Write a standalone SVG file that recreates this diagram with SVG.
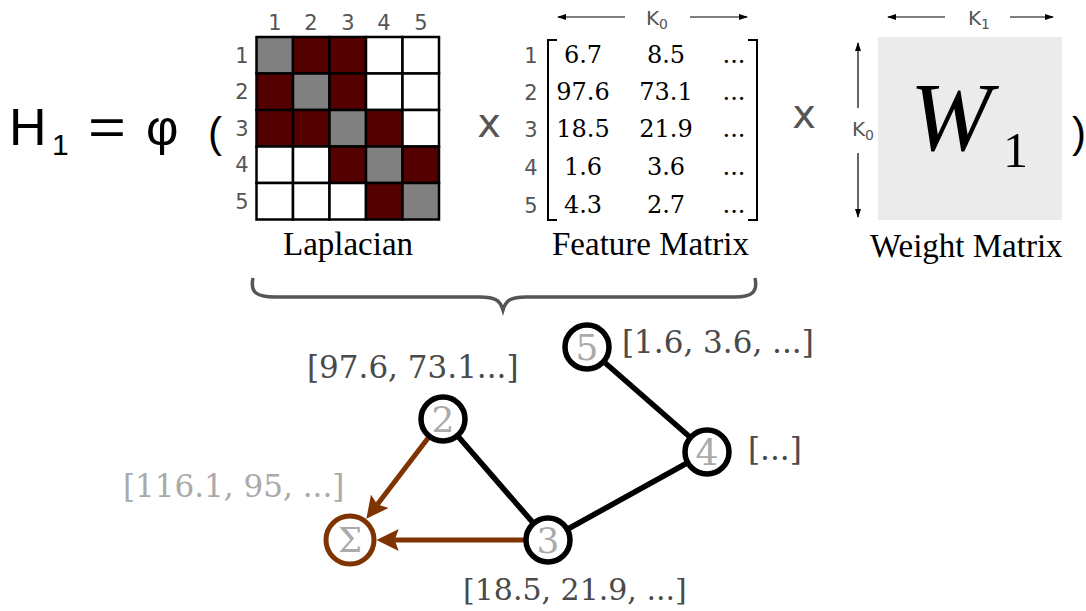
<svg xmlns="http://www.w3.org/2000/svg" width="1086" height="611" viewBox="0 0 1086 611">
<style>
.lbl{font-family:"DejaVu Sans",sans-serif;fill:#555;font-size:21px;text-anchor:middle}
.num{font-family:"DejaVu Serif",serif;font-size:24px;fill:#000;text-anchor:middle}
.title{font-family:"Liberation Serif",serif;font-size:33px;fill:#000}
.vec{font-family:"DejaVu Serif",serif;font-size:31px;fill:#4a4a4a}
.eq{font-family:"Liberation Sans",sans-serif;fill:#000}
.times{font-family:"DejaVu Sans",sans-serif;font-size:40px;fill:#555;text-anchor:middle}
.node circle{fill:#fff;stroke:#000;stroke-width:5.5}
.node text{font-family:"DejaVu Serif",serif;font-size:36px;fill:#aaa;text-anchor:middle}
.edge{stroke:#000;stroke-width:5.5;fill:none}
.agg{stroke:#7f3300;stroke-width:5;fill:none}
.dim{stroke:#000;stroke-width:1.2;fill:none}
.klbl{font-family:"DejaVu Sans",sans-serif;fill:#555;font-size:20px;text-anchor:middle}
.cell{stroke:#000;stroke-width:2.5}
.R{fill:#550000}.G{fill:#808080}.W{fill:#fff}
</style>
<defs>
<marker id="ah" markerUnits="userSpaceOnUse" viewBox="0 0 22 22" markerWidth="22" markerHeight="22" refX="4" refY="11" orient="auto">
<path d="M0,0 L22,11 L0,22 L4,11 z" fill="#7f3300"/>
</marker>
<marker id="sa" markerUnits="userSpaceOnUse" viewBox="0 0 9 6" markerWidth="9" markerHeight="6" refX="8" refY="3" orient="auto">
<path d="M0,0 L9,3 L0,6 z" fill="#000"/>
</marker>
</defs>

<g id="equation">
<text class="eq" x="9" y="145" font-size="52">H</text>
<text class="eq" x="52" y="155" font-size="30">1</text>
<text class="eq" x="88" y="145" font-size="52" transform="translate(88 0) scale(1.25 1) translate(-88 0)">=</text>
<text class="eq" x="146" y="145" font-size="50">φ</text>
<text class="eq" x="208" y="147" font-size="42">(</text>
<text class="eq" x="1072" y="147" font-size="42">)</text>
<text class="times" x="489" y="137">x</text>
<text class="times" x="804" y="128">x</text>
</g>

<g id="laplacian">
<g class="cell">
<rect class="G" x="256.5" y="37" width="36.5" height="36.5"/>
<rect class="R" x="293" y="37" width="36.5" height="36.5"/>
<rect class="R" x="329.5" y="37" width="36.5" height="36.5"/>
<rect class="W" x="366" y="37" width="36.5" height="36.5"/>
<rect class="W" x="402.5" y="37" width="36.5" height="36.5"/>
<rect class="R" x="256.5" y="73.5" width="36.5" height="36.5"/>
<rect class="G" x="293" y="73.5" width="36.5" height="36.5"/>
<rect class="R" x="329.5" y="73.5" width="36.5" height="36.5"/>
<rect class="W" x="366" y="73.5" width="36.5" height="36.5"/>
<rect class="W" x="402.5" y="73.5" width="36.5" height="36.5"/>
<rect class="R" x="256.5" y="110" width="36.5" height="36.5"/>
<rect class="R" x="293" y="110" width="36.5" height="36.5"/>
<rect class="G" x="329.5" y="110" width="36.5" height="36.5"/>
<rect class="R" x="366" y="110" width="36.5" height="36.5"/>
<rect class="W" x="402.5" y="110" width="36.5" height="36.5"/>
<rect class="W" x="256.5" y="146.5" width="36.5" height="36.5"/>
<rect class="W" x="293" y="146.5" width="36.5" height="36.5"/>
<rect class="R" x="329.5" y="146.5" width="36.5" height="36.5"/>
<rect class="G" x="366" y="146.5" width="36.5" height="36.5"/>
<rect class="R" x="402.5" y="146.5" width="36.5" height="36.5"/>
<rect class="W" x="256.5" y="183" width="36.5" height="36.5"/>
<rect class="W" x="293" y="183" width="36.5" height="36.5"/>
<rect class="W" x="329.5" y="183" width="36.5" height="36.5"/>
<rect class="R" x="366" y="183" width="36.5" height="36.5"/>
<rect class="G" x="402.5" y="183" width="36.5" height="36.5"/>
</g>
<text class="lbl" x="275" y="30">1</text>
<text class="lbl" x="311" y="30">2</text>
<text class="lbl" x="348" y="30">3</text>
<text class="lbl" x="384" y="30">4</text>
<text class="lbl" x="421" y="30">5</text>
<text class="lbl" x="242" y="63">1</text>
<text class="lbl" x="242" y="99">2</text>
<text class="lbl" x="242" y="136">3</text>
<text class="lbl" x="242" y="172">4</text>
<text class="lbl" x="242" y="209">5</text>
<text class="title" x="283" y="255">Laplacian</text>
</g>

<g id="feature-matrix">
<line class="dim" x1="625" y1="17" x2="558" y2="17" marker-end="url(#sa)"/>
<line class="dim" x1="690" y1="17" x2="747" y2="17" marker-end="url(#sa)"/>
<text class="klbl" x="657" y="25">K<tspan font-size="14" dy="4">0</tspan></text>
<path d="M557,40 H548 V220 H557 M748,40 H757 V220 H748" stroke="#000" stroke-width="2" fill="none"/>
<text class="lbl" x="531" y="63">1</text>
<text class="lbl" x="531" y="100">2</text>
<text class="lbl" x="531" y="137">3</text>
<text class="lbl" x="531" y="175">4</text>
<text class="lbl" x="531" y="213">5</text>
<text class="num" x="583" y="63">6.7</text><text class="num" x="666" y="63">8.5</text><text class="num" x="734" y="63">...</text>
<text class="num" x="583" y="100">97.6</text><text class="num" x="666" y="100">73.1</text><text class="num" x="734" y="100">...</text>
<text class="num" x="583" y="137">18.5</text><text class="num" x="666" y="137">21.9</text><text class="num" x="734" y="137">...</text>
<text class="num" x="583" y="175">1.6</text><text class="num" x="666" y="175">3.6</text><text class="num" x="734" y="175">...</text>
<text class="num" x="583" y="213">4.3</text><text class="num" x="666" y="213">2.7</text><text class="num" x="734" y="213">...</text>
<text class="title" x="552" y="255">Feature Matrix</text>
</g>

<g id="weight-matrix">
<line class="dim" x1="945" y1="17" x2="888" y2="17" marker-end="url(#sa)"/>
<line class="dim" x1="1010" y1="17" x2="1053" y2="17" marker-end="url(#sa)"/>
<text class="klbl" x="979" y="25">K<tspan font-size="14" dy="4">1</tspan></text>
<line class="dim" x1="858" y1="108" x2="858" y2="43" marker-end="url(#sa)"/>
<line class="dim" x1="858" y1="153" x2="858" y2="217" marker-end="url(#sa)"/>
<text class="klbl" x="863" y="136">K<tspan font-size="14" dy="4">0</tspan></text>
<rect x="878" y="37" width="184" height="183" fill="#ebebeb"/>
<text x="910" y="150" font-family="Liberation Serif, serif" font-style="italic" font-size="98" fill="#000">W</text>
<text x="1003" y="167" font-family="Liberation Serif, serif" font-size="50" fill="#000">1</text>
<text class="title" x="870" y="257">Weight Matrix</text>
</g>

<g id="brace">
<path d="M253,278 C250,292 256,297 275,297 L480,297 C495,297 500,300 503,310 C506,300 511,297 526,297 L735,297 C752,297 758,292 755,278" stroke="#555" stroke-width="3.5" fill="none"/>
</g>

<g id="connectors">
<line class="edge" x1="587" y1="347" x2="707" y2="452"/>
<line class="edge" x1="707" y1="452" x2="548" y2="540"/>
<line class="edge" x1="443" y1="419" x2="548" y2="540"/>
<line class="agg" x1="435" y1="429" x2="377.3" y2="504.5" marker-end="url(#ah)"/>
<line class="agg" x1="530" y1="540" x2="394.7" y2="540" marker-end="url(#ah)"/>
</g>

<g id="node-2" class="node"><circle cx="443" cy="419" r="22"/><text x="443" y="432">2</text></g>
<g id="node-3" class="node"><circle cx="548" cy="540" r="22"/><text x="548" y="553">3</text></g>
<g id="node-4" class="node"><circle cx="707" cy="452" r="22"/><text x="707" y="465">4</text></g>
<g id="node-5" class="node"><circle cx="587" cy="347" r="22"/><text x="587" y="360">5</text></g>
<g id="node-sum" class="node"><circle cx="350" cy="540" r="24" style="stroke:#7f3300;stroke-width:5"/><text x="350" y="552" style="font-size:34px">Σ</text></g>

<g id="labels">
<text class="vec" x="307" y="378">[97.6, 73.1...]</text>
<text class="vec" x="622" y="353">[1.6, 3.6, ...]</text>
<text class="vec" x="748" y="460">[...]</text>
<text class="vec" x="123" y="497" style="fill:#aaa">[116.1, 95, ...]</text>
<text class="vec" x="463" y="600" style="font-size:30px">[18.5, 21.9, ...]</text>
</g>
</svg>
